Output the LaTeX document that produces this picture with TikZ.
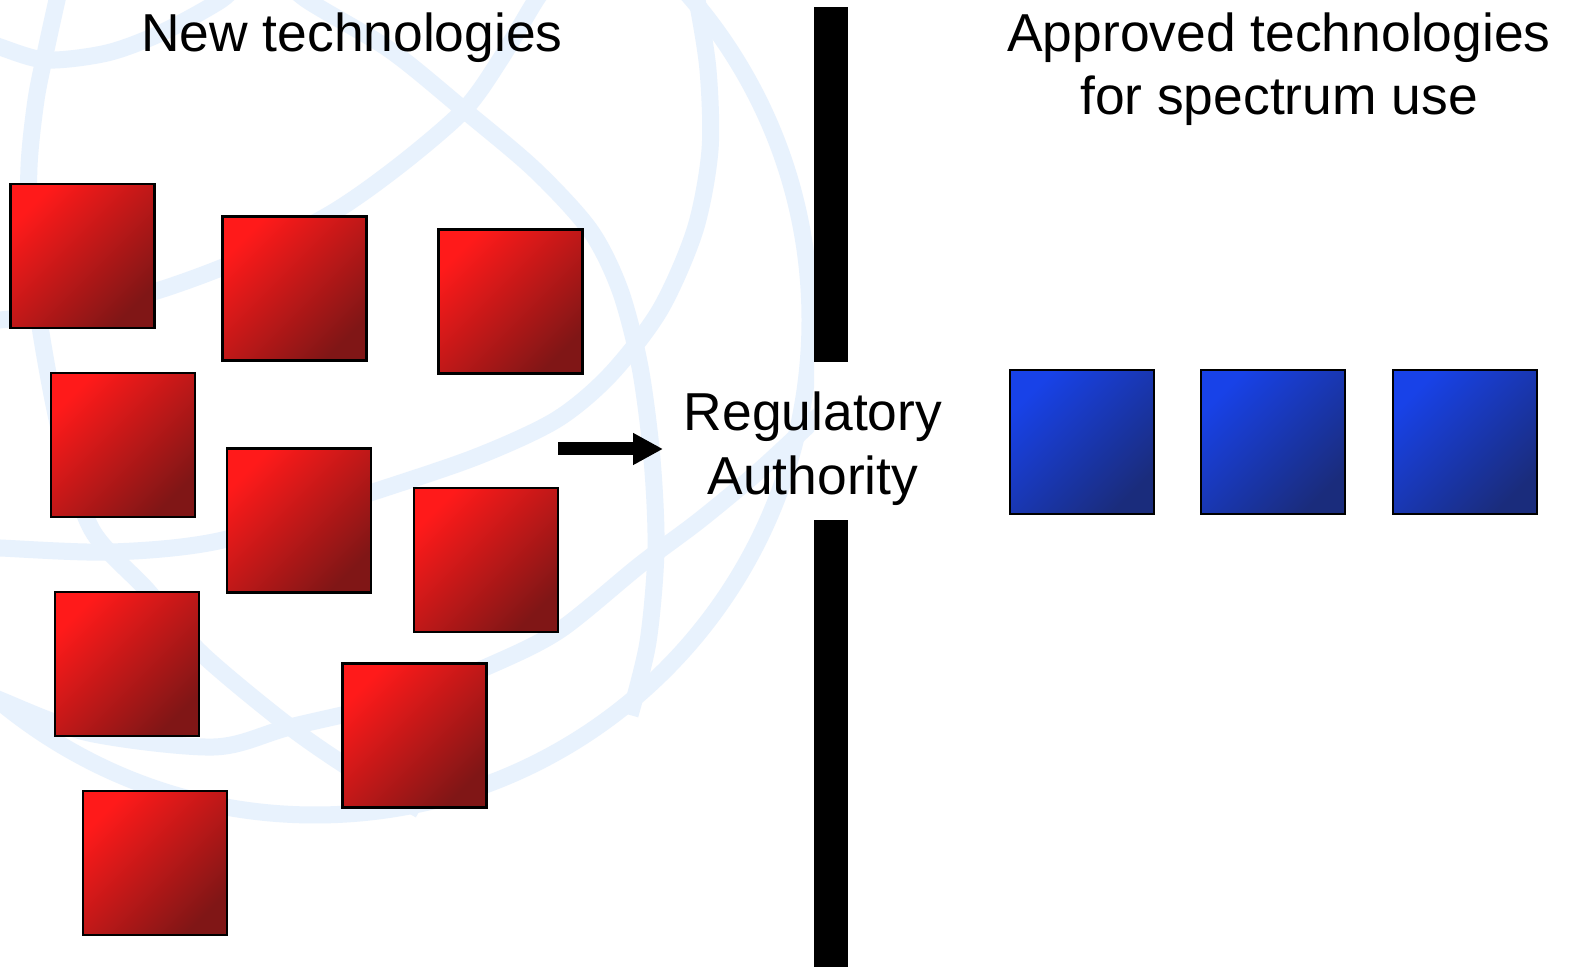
\documentclass[tikz,border=0pt]{standalone}
\usepackage{fontspec}
\setmainfont{Liberation Sans}
\usetikzlibrary{arrows.meta}
\definecolor{globe}{RGB}{232,242,253}
\definecolor{redA}{RGB}{255,26,26}
\definecolor{redB}{RGB}{128,22,22}
\definecolor{blueA}{RGB}{24,66,232}
\definecolor{blueB}{RGB}{26,44,124}
\tikzset{
  band/.style={draw=globe, line width=8.5pt},
  sqbase/.style={draw=black, line width=1.25pt, minimum size=72pt, inner sep=0pt},
  redsq/.style={sqbase, top color=redA, bottom color=redB, shading angle=45},
  bluesq/.style={sqbase, top color=blueA, bottom color=blueB, shading angle=45},
  txt/.style={font=\fontsize{26.7}{31.5}\selectfont, inner sep=0pt, anchor=base},
  barstyle/.style={fill=black, draw=none, inner sep=0pt, minimum width=17pt},
  fatarrow/.style={line width=6.5pt, -{Triangle[length=15pt,width=15pt]}}
}
\begin{document}
\begin{tikzpicture}[x=0.5pt,y=-0.5pt]
\useasboundingbox (0,0) rectangle (1571,967);
\fill[white] (0,0) rectangle (1571,967);
% faded globe in the background
\begin{scope}
\clip (0,0) rectangle (814,967);
\draw[band] (315,320) circle [radius=495];
\draw[band] plot[smooth] coordinates {(-30,35) (0,47) (46,60) (107,53) (161,33) (221,0) (240,-20)};
\draw[band] plot[smooth] coordinates {(62,-20) (57,0) (46,50) (36,100) (29,167) (30,250) (43,345) (62,440) (92,530) (147,590) (201,653) (290,727) (360,775) (420,810)};
\draw[band] plot[smooth] coordinates {(280,-25) (307,0) (390,50) (464,110) (535,170) (590,230) (620,290) (640,367) (652,459) (656,550) (648,642) (630,715)};
\draw[band] plot[smooth] coordinates {(555,-25) (536,0) (500,60) (464,110) (400,165) (332,213) (240,260) (150,293) (60,313) (0,320) (-20,322)};
\draw[band] plot[smooth] coordinates {(690,-25) (697,0) (708,70) (710,150) (695,230) (660,310) (610,375) (556,420) (476,457) (370,493) (223,540) (112,552) (0,548) (-20,547)};
\draw[band] plot[smooth] coordinates {(-20,690) (0,700) (89,733) (214,747) (290,727) (402,700) (491,665) (560,630) (640,565) (700,520) (760,470) (830,405)};
\end{scope}
% texts
\node[txt] (new) at (352,52) {New technologies};
\node[txt] (app1) at (1279,52) {Approved technologies};
\node[txt] (app2) at (1279,115) {for spectrum use};
\node[txt] (reg1) at (813,431) {Regulatory};
\node[txt] (reg2) at (813,495) {Authority};
% barrier
\node[barstyle, minimum height=177.5pt] (bartop) at (831,184.5) {};
\node[barstyle, minimum height=223.5pt] (barbot) at (831,743.5) {};
% new technologies
\node[redsq] (r1) at (82.5,256) {};
\node[redsq] (r2) at (294.5,288.5) {};
\node[redsq] (r3) at (510.5,301.5) {};
\node[redsq] (r4) at (123,445) {};
\node[redsq] (r5) at (299,520.5) {};
\node[redsq] (r6) at (486,560) {};
\node[redsq] (r7) at (127,664) {};
\node[redsq] (r8) at (414.5,735.5) {};
\node[redsq] (r9) at (155,863) {};
% approved technologies
\node[bluesq] (b1) at (1082,442) {};
\node[bluesq] (b2) at (1273,442) {};
\node[bluesq] (b3) at (1465,442) {};
% arrow
\coordinate (astart) at (558,449);
\coordinate (aend) at (663,449);
\draw[fatarrow] (astart) -- (aend);
\end{tikzpicture}
\end{document}
